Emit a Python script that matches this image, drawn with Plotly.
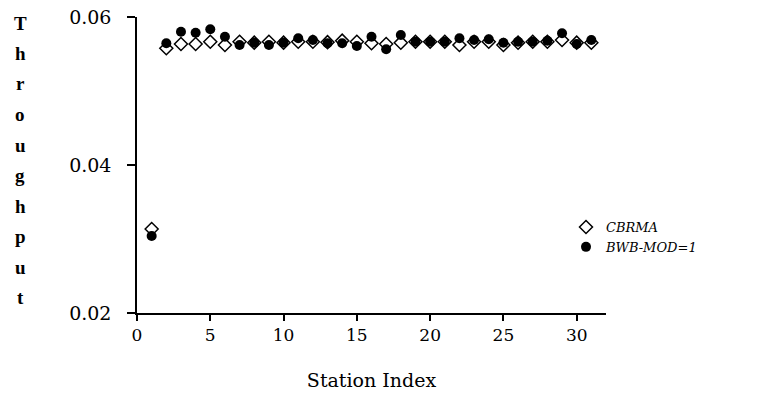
import plotly.graph_objects as go

stations = list(range(1, 32))
cbrma = [0.03135, 0.05577, 0.05635, 0.05635, 0.05666, 0.05622, 0.05666, 0.05653, 0.05666, 0.05653,
         0.05666, 0.05666, 0.05660, 0.05680, 0.05666, 0.05645, 0.05635, 0.05653, 0.05666, 0.05666,
         0.05666, 0.05622, 0.05666, 0.05666, 0.05622, 0.05653, 0.05666, 0.05666, 0.05689, 0.05653,
         0.05653]
bwb = [0.03040, 0.05645, 0.05801, 0.05788, 0.05834, 0.05734, 0.05622, 0.05653, 0.05622, 0.05653,
       0.05712, 0.05689, 0.05645, 0.05645, 0.05608, 0.05734, 0.05564, 0.05757, 0.05666, 0.05666,
       0.05666, 0.05712, 0.05689, 0.05699, 0.05653, 0.05666, 0.05666, 0.05680, 0.05780, 0.05635,
       0.05689]
series_names = ["CBRMA", "BWB-MOD=1"]
x_ticks = [0, 5, 10, 15, 20, 25, 30]
y_ticks = [0.02, 0.04, 0.06]
y_title = "Throughput"
x_title = "Station Index"

SERIF = "Liberation Serif, Times New Roman, serif"
WIDE = "DejaVu Serif, serif"

fig = go.Figure()
fig.add_trace(go.Scatter(
    x=stations, y=cbrma, mode="markers", name=series_names[0],
    marker=dict(symbol="diamond", size=10, color="white",
                line=dict(color="black", width=1.5)),
))
fig.add_trace(go.Scatter(
    x=stations, y=bwb, mode="markers", name=series_names[1],
    marker=dict(symbol="circle", size=10, color="black",
                line=dict(color="black", width=0)),
))

L, R, T, B = 137, 172, 17, 84
W, H = 778, 397
plot_h = H - T - B
plot_w = W - L - R

# vertical stacked y title
for i, ch in enumerate(y_title):
    ypx = 23 + i * 30.5
    fig.add_annotation(
        text=ch, x=(20 - L) / plot_w, xref="paper", xanchor="center",
        y=(H - B - ypx) / plot_h, yref="paper", yanchor="middle",
        showarrow=False, font=dict(family=SERIF, size=19, color="black", weight="bold"),
    )

fig.update_layout(
    width=W, height=H,
    margin=dict(l=L, r=R, t=T, b=B, autoexpand=False),
    paper_bgcolor="white", plot_bgcolor="white",
    showlegend=True,
    legend=dict(
        x=(566 - L) / plot_w, y=(H - B - 212) / plot_h,
        xanchor="left", yanchor="top",
        bgcolor="rgba(0,0,0,0)", borderwidth=0,
        font=dict(family=WIDE, size=13, color="black", style="italic"),
        itemwidth=30, tracegroupgap=0,
    ),
    font=dict(family=SERIF, color="black"),
)
fig.update_xaxes(
    range=[0, 32], tickvals=x_ticks, ticktext=[str(v) for v in x_ticks],
    showline=True, linecolor="black", linewidth=1.5, automargin=False,
    ticks="outside", ticklen=6, tickwidth=1.5, tickcolor="black",
    showgrid=False, zeroline=False,
    tickfont=dict(family=WIDE, size=17, color="black"),
    title=dict(text=x_title, font=dict(family=WIDE, size=19, color="black"), standoff=30),
)
fig.update_yaxes(
    range=[0.02, 0.06], tickvals=y_ticks, ticktext=["%.2f" % v for v in y_ticks],
    showline=True, linecolor="black", linewidth=1.5, automargin=False,
    ticks="outside", ticklen=8, tickwidth=1.5, tickcolor="black",
    showgrid=False, zeroline=False, ticklabelstandoff=12,
    tickfont=dict(family=WIDE, size=19, color="black"),
)

fig.write_html("out.html")
